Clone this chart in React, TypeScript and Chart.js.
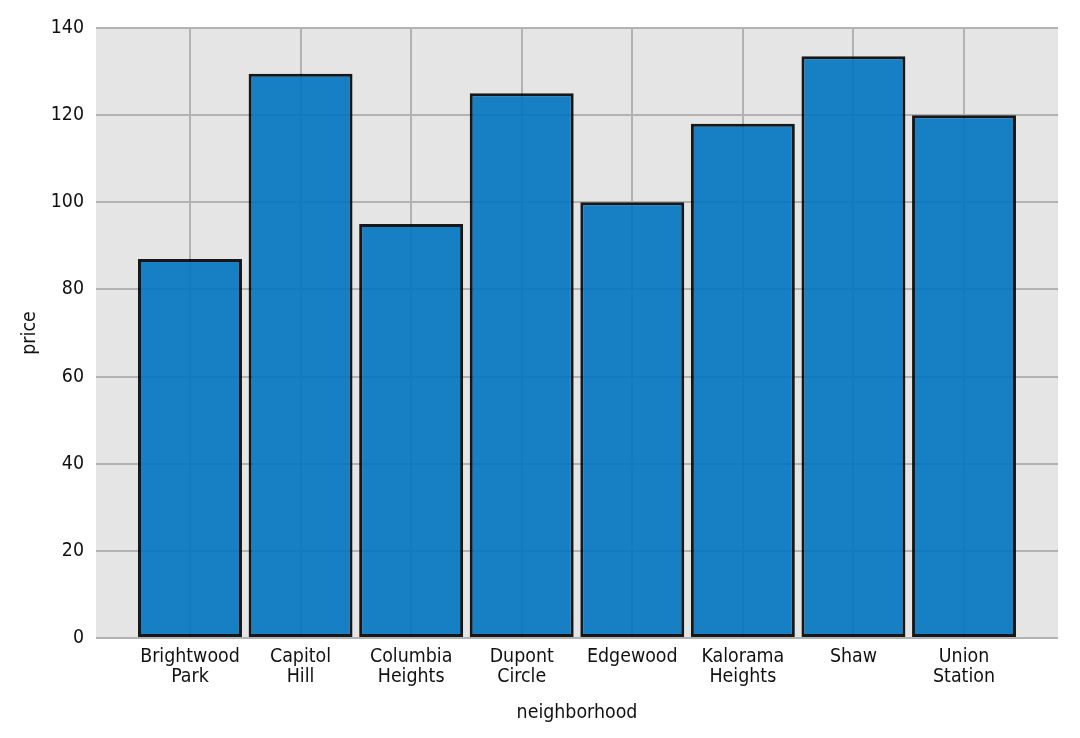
import React, { useEffect, useRef } from "react";
import { Chart, registerables } from "chart.js";

Chart.register(...registerables);

const neighborhoods: string[][] = [
  ["Brightwood", "Park"],
  ["Capitol", "Hill"],
  ["Columbia", "Heights"],
  ["Dupont", "Circle"],
  ["Edgewood"],
  ["Kalorama", "Heights"],
  ["Shaw"],
  ["Union", "Station"],
];
const prices: number[] = [87, 129.5, 95, 125, 100, 118, 133.5, 120];
const yTicks: number[] = [0, 20, 40, 60, 80, 100, 120, 140];

const FONT = "'DejaVu Sans Condensed', 'DejaVu Sans', sans-serif";
const FS = 19.4;

const bgPlugin = {
  id: "plotBg",
  beforeDraw(chart: any) {
    const { ctx, chartArea } = chart;
    if (!chartArea) return;
    ctx.save();
    ctx.fillStyle = "#e5e5e5";
    ctx.fillRect(chartArea.left, chartArea.top, chartArea.right - chartArea.left, chartArea.bottom - chartArea.top);
    ctx.restore();
  },
};

export default function App() {
  const ref = useRef<HTMLCanvasElement | null>(null);
  useEffect(() => {
    document.body.style.margin = "0";
    const canvas = ref.current;
    if (!canvas) return;
    const chart = new Chart(canvas, {
      type: "bar",
      data: {
        datasets: [
          {
            label: "price",
            data: prices.map((p, i) => ({ x: i, y: p })),
            backgroundColor: "rgba(0,115,192,0.9)",
            borderColor: "rgba(0,0,0,0.9)",
            borderWidth: 3,
            borderSkipped: false,
            barPercentage: 0.94,
            categoryPercentage: 1,
          } as any,
        ],
      },
      options: {
        responsive: false,
        animation: false,
        devicePixelRatio: 1,
        layout: { padding: { left: 0, top: 28, right: 22, bottom: 0 } },
        plugins: { legend: { display: false }, tooltip: { enabled: false } },
        scales: {
          x: {
            type: "linear",
            min: -0.85,
            max: 7.85,
            offset: false,
            afterBuildTicks: (scale: any) => {
              scale.ticks = neighborhoods.map((_, i) => ({ value: i }));
            },
            afterFit: (scale: any) => {
              scale.height = 100;
            },
            grid: { color: "#b2b2b2", lineWidth: 2, drawTicks: false, offset: false },
            border: { display: false },
            ticks: {
              padding: 9,
              color: "#111",
              font: { family: FONT, size: FS, lineHeight: 1.03 },
              maxRotation: 0,
              autoSkip: false,
              callback: (v: any) => neighborhoods[Math.round(Number(v))] ?? "",
            },
            title: {
              display: true,
              text: "neighborhood",
              color: "#111",
              font: { family: FONT, size: FS, lineHeight: 1.2 },
              padding: { top: 0, bottom: 13 },
            },
          },
          y: {
            type: "linear",
            min: 0,
            max: 140,
            afterBuildTicks: (scale: any) => {
              scale.ticks = yTicks.map((v) => ({ value: v }));
            },
            afterFit: (scale: any) => {
              scale.width = 96;
            },
            grid: { color: "#b2b2b2", lineWidth: 2, drawTicks: false },
            border: { display: false },
            ticks: {
              padding: 12,
              color: "#111",
              font: { family: FONT, size: FS },
            },
            title: {
              display: true,
              text: "price",
              color: "#111",
              font: { family: FONT, size: FS, lineHeight: 1.2 },
              padding: { top: 18, bottom: 0 },
            },
          },
        },
      },
      plugins: [bgPlugin],
    });
    return () => chart.destroy();
  }, []);
  return (
    <div style={{ width: 1080, height: 738 }}>
      <canvas ref={ref} width={1080} height={738} style={{ display: "block", width: 1080, height: 738 }} />
    </div>
  );
}
